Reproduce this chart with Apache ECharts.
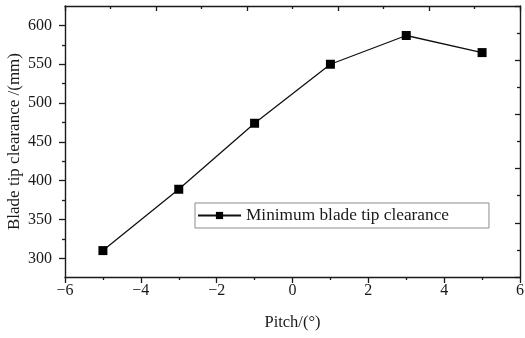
<!DOCTYPE html>
<html>
<head>
<meta charset="utf-8">
<script src="https://cdn.jsdelivr.net/npm/echarts@6/dist/echarts.min.js"></script>
<style>
  html, body { margin: 0; padding: 0; background: #fff; }
  #chart { width: 525px; height: 338px; }
</style>
</head>
<body>
<div id="chart"></div>
<script>
// Blade tip clearance vs. pitch angle
const pitch = [-5, -3, -1, 1, 3, 5];
const clearance = [310, 389, 474, 550, 587, 565];
const seriesName = 'Minimum blade tip clearance';
const yMajorTicks = [300, 350, 400, 450, 500, 550, 600];
const yMinorTicks = [325, 375, 425, 475, 525, 575];

const serif = '"Liberation Serif", "Times New Roman", serif';
const ink = '#1a1a1a';

const chart = echarts.init(document.getElementById('chart'), null, { renderer: 'canvas' });

const frameLine = { show: true, onZero: false, lineStyle: { color: ink, width: 1.4 } };
const tickStyle = { color: ink, width: 1.3 };

chart.setOption({
  animation: false,
  backgroundColor: '#ffffff',
  grid: { left: 65, right: 5, top: 6, bottom: 61, containLabel: false, outerBoundsMode: 'none' },
  legend: {
    data: [seriesName],
    left: 195,
    top: 203,
    itemWidth: 43,
    itemHeight: 9,
    padding: [4, 40, 4, 2],
    borderColor: '#8c8c8c',
    borderWidth: 1,
    textStyle: { fontFamily: serif, fontSize: 17.3, color: ink }
  },
  xAxis: [
    {
      type: 'value',
      position: 'bottom',
      min: -6, max: 6, interval: 2,
      axisLine: frameLine,
      axisTick: { show: true, inside: false, length: 6, lineStyle: tickStyle },
      minorTick: { show: true, splitNumber: 2, length: 3, lineStyle: tickStyle },
      splitLine: { show: false },
      axisLabel: {
        margin: 6,
        fontFamily: serif, fontSize: 16, color: ink,
        formatter: v => (v < 0 ? '\u2212' + Math.abs(v) : String(v))
      },
      name: 'Pitch/(°)',
      nameLocation: 'middle',
      nameGap: 37,
      nameMoveOverlap: false,
      nameTextStyle: { fontFamily: serif, fontSize: 16.5, color: ink }
    },
    {
      type: 'value',
      position: 'top',
      min: 0, max: 10, interval: 2,
      axisLine: frameLine,
      axisTick: { show: true, inside: true, length: 5, lineStyle: tickStyle },
      minorTick: { show: true, splitNumber: 2, length: 3, lineStyle: tickStyle },
      splitLine: { show: false },
      axisLabel: { show: false }
    }
  ],
  yAxis: [
    {
      type: 'value',
      position: 'left',
      min: 276, max: 625,
      axisLine: frameLine,
      axisTick: { show: true, inside: false, length: 6, customValues: yMajorTicks, lineStyle: tickStyle },
      splitLine: { show: false },
      axisLabel: {
        customValues: yMajorTicks,
        margin: 13,
        fontFamily: serif, fontSize: 16, color: ink
      },
      name: 'Blade tip clearance /(mm)',
      nameLocation: 'middle',
      nameGap: 42,
      nameMoveOverlap: false,
      nameTextStyle: { fontFamily: serif, fontSize: 17, color: ink }
    },
    {
      type: 'value',
      position: 'left',
      min: 276, max: 625,
      axisLine: { show: false, onZero: false },
      axisTick: { show: true, inside: false, length: 3, customValues: yMinorTicks, lineStyle: tickStyle },
      splitLine: { show: false },
      axisLabel: { show: false }
    },
    {
      type: 'value',
      position: 'right',
      min: 0, max: 10, interval: 2,
      axisLine: frameLine,
      axisTick: { show: true, inside: true, length: 5, lineStyle: tickStyle },
      minorTick: { show: true, splitNumber: 2, length: 3, lineStyle: tickStyle },
      splitLine: { show: false },
      axisLabel: { show: false }
    }
  ],
  series: [
    {
      name: seriesName,
      type: 'line',
      xAxisIndex: 0,
      yAxisIndex: 0,
      data: pitch.map((p, i) => [p, clearance[i]]),
      symbol: 'rect',
      symbolSize: 9,
      itemStyle: { color: '#000' },
      lineStyle: { color: '#111', width: 1.3 }
    }
  ]
});
</script>
</body>
</html>
